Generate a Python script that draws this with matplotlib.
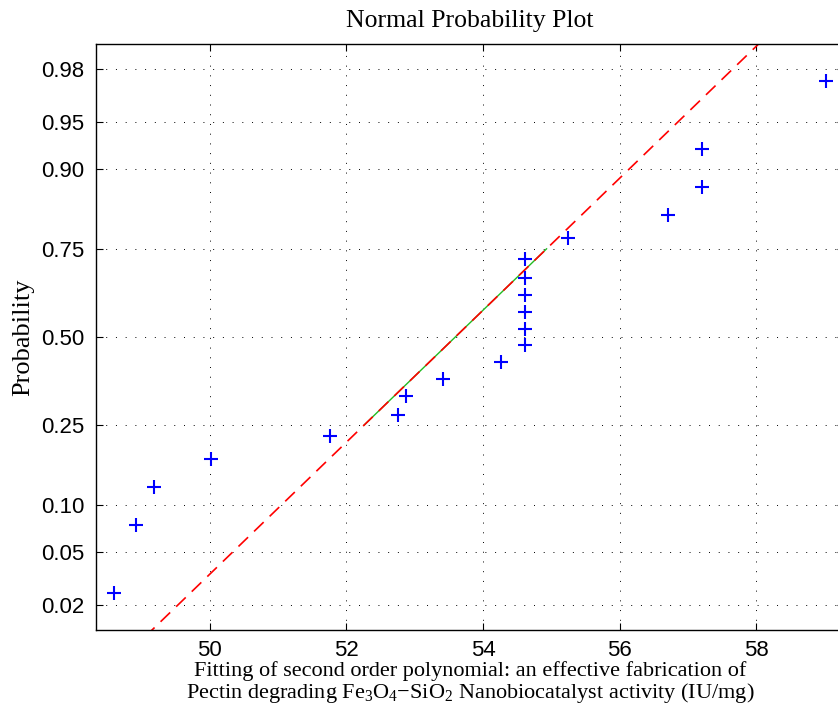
from statistics import NormalDist
import numpy as np
import matplotlib
matplotlib.use('Agg')
import matplotlib.pyplot as plt

# sorted sample values
activity = [48.60, 48.92, 49.19, 50.02, 51.76, 52.76, 52.87, 53.42, 54.27,
            54.61, 54.61, 54.61, 54.61, 54.61, 54.61, 55.25, 56.71, 57.21,
            57.21, 59.02]
prob_ticks = [0.02, 0.05, 0.10, 0.25, 0.50, 0.75, 0.90, 0.95, 0.98]
x_ticks = [50, 52, 54, 56, 58]

nd = NormalDist()
_inv = np.vectorize(nd.inv_cdf, otypes=[float])
_cdf = np.vectorize(nd.cdf, otypes=[float])


def probit(p):
    p = np.clip(np.asarray(p, dtype=float), 1e-9, 1 - 1e-9)
    return _inv(p)


def cdf(z):
    return _cdf(np.asarray(z, dtype=float))


plt.rcParams['mathtext.fontset'] = 'custom'
plt.rcParams['mathtext.rm'] = 'Liberation Serif'
plt.rcParams['mathtext.it'] = 'Liberation Serif:italic'

x = np.array(activity)
n = len(x)
p = (np.arange(1, n + 1) - 0.5) / n

# quartile reference line (as in matlab normplot)
q1 = (x[4] + x[5]) / 2
q3 = (x[14] + x[15]) / 2
z1, z3 = probit(0.25), probit(0.75)
slope = (z3 - z1) / (q3 - q1)
xr = np.array([x.min(), x.max()])
zr = z1 + slope * (xr - q1)

fig = plt.figure(figsize=(8.38, 7.10), dpi=100)
ax = fig.add_axes([96 / 838, 80 / 710, 748 / 838, 586 / 710])
ax.set_yscale('function', functions=(probit, cdf))

ax.plot([q1, q3], [0.25, 0.75], '-', color='#22bb22', lw=1.0)
ax.plot(xr, cdf(zr), '--', color='red', lw=1.2, dashes=(8, 5))
ax.plot(x, p, '+', color='blue', ms=10, mew=1.5, ls='none')

dr = 0.025 * (x.max() - x.min())
ax.set_xlim(x.min() - dr, x.max() + dr)
ax.set_ylim(0.25 / n, 1 - 0.25 / n)

ax.set_xticks(x_ticks)
ax.set_yticks(prob_ticks)
ax.set_yticklabels(['%.2f' % t for t in prob_ticks])
ax.yaxis.set_minor_locator(matplotlib.ticker.NullLocator())
ax.tick_params(direction='in', length=5, top=True, right=True, labelsize=16)
ax.tick_params(axis='y', pad=8.5)
ax.tick_params(axis='x', pad=7.5)
for lab in ax.get_xticklabels() + ax.get_yticklabels():
    lab.set_fontfamily('Liberation Sans')
ax.grid(True, color='black', ls=(0, (1, 9)), lw=0.7)
for s in ax.spines.values():
    s.set_linewidth(1.0)

serif = 'Liberation Serif'
ax.set_title('Normal Probability Plot', fontsize=18.5, family=serif, pad=12.5)
ax.set_ylabel('Probability', fontsize=19, family=serif, labelpad=5)
ax.set_xlabel('Fitting of second order polynomial: an effective fabrication of\n'
              'Pectin degrading Fe$_3$O$_4$\u2212SiO$_2$ Nanobiocatalyst activity (IU/mg)',
              fontsize=16, family=serif, linespacing=1.0, labelpad=0)

fig.savefig('out.png', dpi=100)
